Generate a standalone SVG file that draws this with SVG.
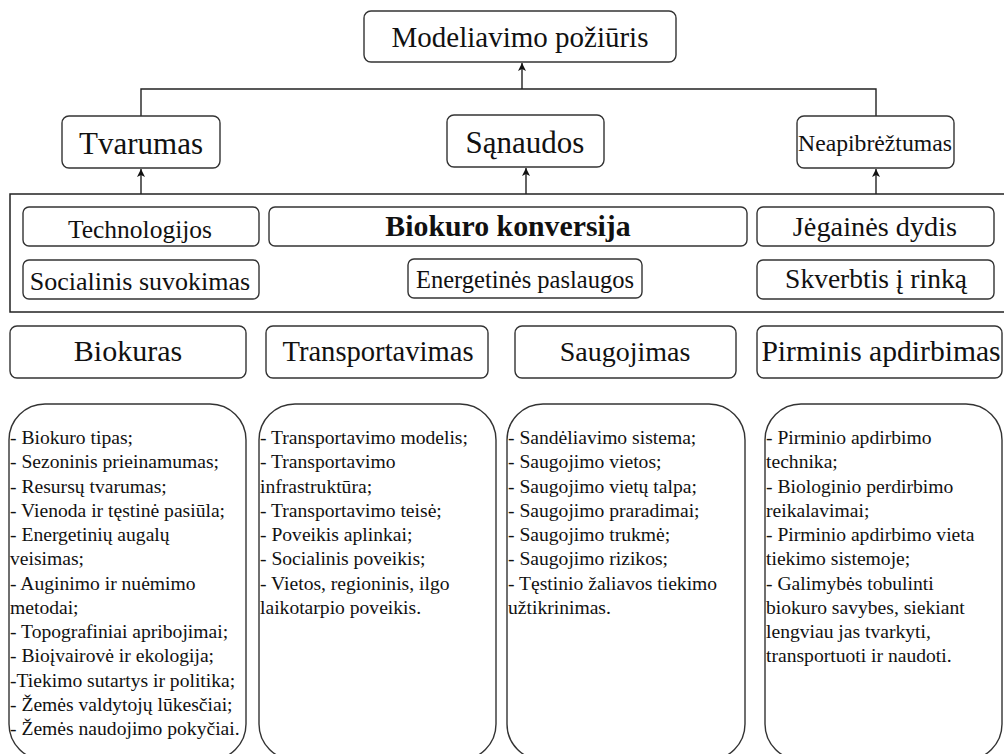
<svg xmlns="http://www.w3.org/2000/svg" width="1004" height="754" viewBox="0 0 1004 754">
  <style>
    .box { fill: #ffffff; stroke: #333333; stroke-width: 1.4; }
    .frame { fill: none; stroke: #222222; stroke-width: 1.5; }
    .lbl { font-family: 'Liberation Serif', 'Times New Roman', Times, 'DejaVu Serif', serif; fill: #111111; text-anchor: middle; }
    .list { font-family: 'Liberation Serif', 'Times New Roman', Times, 'DejaVu Serif', serif; fill: #111111; font-size: 19.6px; }
    .wire { fill: none; stroke: #222222; stroke-width: 1.4; }
  </style>
  <defs>
    <marker id="arrow" viewBox="0 0 10 10" refX="10" refY="5" markerWidth="11" markerHeight="8" markerUnits="userSpaceOnUse" orient="auto">
      <path d="M0,0 L10,5 L0,10 L2.5,5 Z" fill="#111111"/>
    </marker>
  </defs>
  <rect width="1004" height="754" fill="#ffffff"/>

  <!-- connectors -->
  <g id="connectors">
    <polyline class="wire" points="141,116 141,89 876,89 876,116"/>
    <line class="wire" x1="522" y1="89" x2="522" y2="63" marker-end="url(#arrow)"/>
    <line class="wire" x1="141" y1="194" x2="141" y2="169" marker-end="url(#arrow)"/>
    <line class="wire" x1="526" y1="194" x2="526" y2="168" marker-end="url(#arrow)"/>
    <line class="wire" x1="876" y1="194" x2="876" y2="169" marker-end="url(#arrow)"/>
  </g>

  <!-- top level -->
  <g id="modeliavimo">
    <rect class="box" x="364" y="11" width="312" height="51" rx="7"/>
    <text class="lbl" x="520" y="47" font-size="29">Modeliavimo požiūris</text>
  </g>

  <!-- criteria -->
  <g id="tvarumas">
    <rect class="box" x="62" y="116" width="158" height="52" rx="7"/>
    <text class="lbl" x="141" y="154" font-size="31">Tvarumas</text>
  </g>
  <g id="sanaudos">
    <rect class="box" x="447" y="115" width="157" height="52" rx="7"/>
    <text class="lbl" x="525" y="153" font-size="31">Sąnaudos</text>
  </g>
  <g id="neapibreztumas">
    <rect class="box" x="797" y="116" width="157" height="52" rx="7"/>
    <text class="lbl" x="875" y="151" font-size="23.7">Neapibrėžtumas</text>
  </g>

  <!-- conversion block -->
  <g id="konversijos-blokas">
    <rect class="frame" x="10" y="194" width="1000" height="118"/>
  </g>
  <g id="technologijos">
    <rect class="box" x="23" y="207" width="236" height="39" rx="6"/>
    <text class="lbl" x="140" y="238" font-size="25.5">Technologijos</text>
  </g>
  <g id="biokuro-konversija">
    <rect class="box" x="269" y="207" width="478" height="39" rx="6"/>
    <text class="lbl" x="508" y="236" font-size="29.8" font-weight="bold">Biokuro konversija</text>
  </g>
  <g id="jegaines-dydis">
    <rect class="box" x="757" y="207" width="237" height="39" rx="6"/>
    <text class="lbl" x="875" y="236" font-size="28.3">Jėgainės dydis</text>
  </g>
  <g id="socialinis-suvokimas">
    <rect class="box" x="23" y="260" width="236" height="39" rx="6"/>
    <text class="lbl" x="140" y="290" font-size="26">Socialinis suvokimas</text>
  </g>
  <g id="energetines-paslaugos">
    <rect class="box" x="408" y="259" width="234" height="39" rx="6"/>
    <text class="lbl" x="525" y="288" font-size="24.5">Energetinės paslaugos</text>
  </g>
  <g id="skverbtis">
    <rect class="box" x="757" y="260" width="237" height="39" rx="6"/>
    <text class="lbl" x="876" y="288" font-size="27.5">Skverbtis į rinką</text>
  </g>

  <!-- supply chain stages -->
  <g id="biokuras">
    <rect class="box" x="10" y="326" width="236" height="52" rx="7"/>
    <text class="lbl" x="128" y="361" font-size="30">Biokuras</text>
  </g>
  <g id="transportavimas">
    <rect class="box" x="266" y="326" width="222" height="52" rx="7"/>
    <text class="lbl" x="378" y="361" font-size="28.6">Transportavimas</text>
  </g>
  <g id="saugojimas">
    <rect class="box" x="515" y="326" width="221" height="52" rx="7"/>
    <text class="lbl" x="625" y="361" font-size="28">Saugojimas</text>
  </g>
  <g id="pirminis-apdirbimas">
    <rect class="box" x="757" y="326" width="245" height="52" rx="7"/>
    <text class="lbl" x="881" y="361" font-size="29.6">Pirminis apdirbimas</text>
  </g>

  <!-- stage details -->
  <g id="biokuras-detales">
    <rect class="box" x="9" y="404" width="237" height="356" rx="36"/>
    <text class="list">
      <tspan x="10" y="444">- Biokuro tipas;</tspan>
      <tspan x="10" y="468.25">- Sezoninis prieinamumas;</tspan>
      <tspan x="10" y="492.5">- Resursų tvarumas;</tspan>
      <tspan x="10" y="516.75">- Vienoda ir tęstinė pasiūla;</tspan>
      <tspan x="10" y="541">- Energetinių augalų</tspan>
      <tspan x="10" y="565.25">veisimas;</tspan>
      <tspan x="10" y="589.5">- Auginimo ir nuėmimo</tspan>
      <tspan x="10" y="613.75">metodai;</tspan>
      <tspan x="10" y="638">- Topografiniai apribojimai;</tspan>
      <tspan x="10" y="662.25">- Bioįvairovė ir ekologija;</tspan>
      <tspan x="10" y="686.5">-Tiekimo sutartys ir politika;</tspan>
      <tspan x="10" y="710.75">- Žemės valdytojų lūkesčiai;</tspan>
      <tspan x="10" y="735">- Žemės naudojimo pokyčiai.</tspan>
    </text>
  </g>
  <g id="transportavimas-detales">
    <rect class="box" x="259" y="404" width="237" height="356" rx="36"/>
    <text class="list">
      <tspan x="260" y="444">- Transportavimo modelis;</tspan>
      <tspan x="260" y="468.25">- Transportavimo</tspan>
      <tspan x="260" y="492.5">infrastruktūra;</tspan>
      <tspan x="260" y="516.75">- Transportavimo teisė;</tspan>
      <tspan x="260" y="541">- Poveikis aplinkai;</tspan>
      <tspan x="260" y="565.25">- Socialinis poveikis;</tspan>
      <tspan x="260" y="589.5">- Vietos, regioninis, ilgo</tspan>
      <tspan x="260" y="613.75">laikotarpio poveikis.</tspan>
    </text>
  </g>
  <g id="saugojimas-detales">
    <rect class="box" x="507" y="404" width="238" height="356" rx="36"/>
    <text class="list">
      <tspan x="508" y="444">- Sandėliavimo sistema;</tspan>
      <tspan x="508" y="468.25">- Saugojimo vietos;</tspan>
      <tspan x="508" y="492.5">- Saugojimo vietų talpa;</tspan>
      <tspan x="508" y="516.75">- Saugojimo praradimai;</tspan>
      <tspan x="508" y="541">- Saugojimo trukmė;</tspan>
      <tspan x="508" y="565.25">- Saugojimo rizikos;</tspan>
      <tspan x="508" y="589.5">- Tęstinio žaliavos tiekimo</tspan>
      <tspan x="508" y="613.75">užtikrinimas.</tspan>
    </text>
  </g>
  <g id="apdirbimas-detales">
    <rect class="box" x="765" y="404" width="237" height="356" rx="36"/>
    <text class="list">
      <tspan x="766" y="444">- Pirminio apdirbimo</tspan>
      <tspan x="766" y="468.25">technika;</tspan>
      <tspan x="766" y="492.5">- Biologinio perdirbimo</tspan>
      <tspan x="766" y="516.75">reikalavimai;</tspan>
      <tspan x="766" y="541">- Pirminio apdirbimo vieta</tspan>
      <tspan x="766" y="565.25">tiekimo sistemoje;</tspan>
      <tspan x="766" y="589.5">- Galimybės tobulinti</tspan>
      <tspan x="766" y="613.75">biokuro savybes, siekiant</tspan>
      <tspan x="766" y="638">lengviau jas tvarkyti,</tspan>
      <tspan x="766" y="662.25">transportuoti ir naudoti.</tspan>
    </text>
  </g>
</svg>
